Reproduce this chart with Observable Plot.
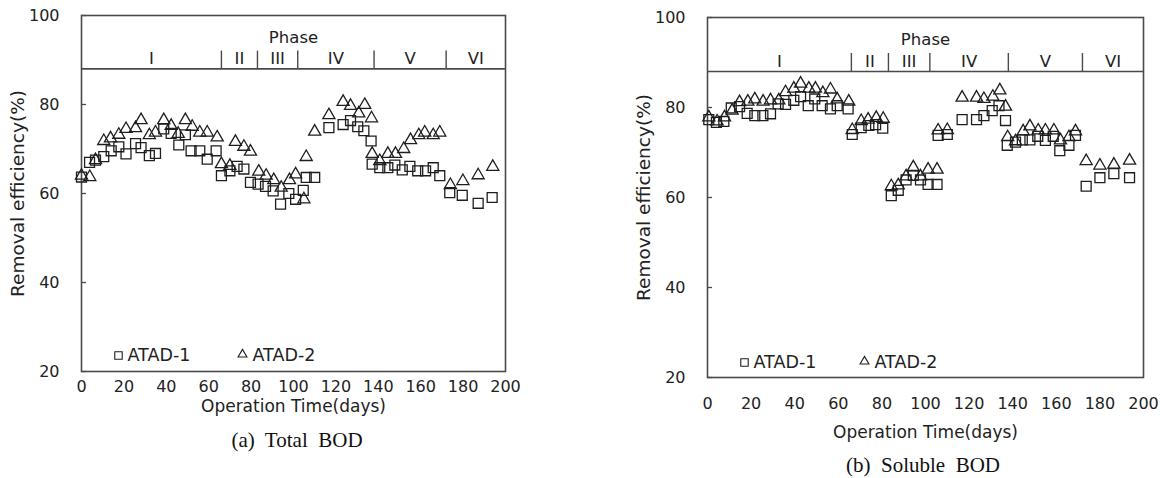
<!DOCTYPE html>
<html><head><meta charset="utf-8">
<script src="https://cdn.jsdelivr.net/npm/d3@7"></script>
<script src="https://cdn.jsdelivr.net/npm/@observablehq/plot@0.6"></script>
<style>
body{margin:0;background:#fff;}
#wrap{position:relative;width:1160px;height:478px;overflow:hidden;background:#fff;}
.panel{position:absolute;top:0;}
.cap{position:absolute;font-family:"Liberation Serif","DejaVu Serif",serif;font-size:21px;color:#111;white-space:pre;transform:translate(-50%,-50%);}
</style></head><body><div id="wrap"></div>
<script>
// ---- shared data ----
const xTicks = [0, 20, 40, 60, 80, 100, 120, 140, 160, 180, 200];
const yTicks = [20, 40, 60, 80, 100];
const phaseBounds = [0, 66, 83, 102, 138, 172, 200];
const phaseNames = ["I", "II", "III", "IV", "V", "VI"];
const phaseLevel = 88;      // horizontal phase line
const phaseTickTop = 92;    // top of the phase separators
const phaseLabelLevel = 90.2;
const seriesNames = ["ATAD-1", "ATAD-2"];

// ---- (a) Total BOD ----
const totalDays1 = [0,3.8,6.6,10.5,14,17.6,21,25.5,28.1,32,34.9,38.8,42.3,45.9,49,51.7,55.8,59.3,63.5,66,70,73.4,76.6,79.7,83.3,86.8,90.4,93.9,97.8,101,104.6,106,110,116.7,123.4,126.9,130.3,133.2,136.6,137.1,140.7,144.5,147.8,151.3,154.9,158.6,162.3,165.9,169,173.7,179.6,187.1,193.7];
const totalAtad1 = [63.7,67.0,67.5,68.3,69.6,70.5,68.9,71.2,70.3,68.5,69.0,74.5,73.5,70.9,73.2,69.6,69.6,67.7,69.6,64.0,65.1,66.1,65.5,62.5,62.1,61.6,60.6,57.6,60.0,58.7,60.7,63.6,63.6,74.8,75.5,76.4,75.0,74.1,71.8,66.6,65.8,65.8,66.4,65.3,66.1,65.1,65.1,65.8,64.0,60.2,59.6,57.8,59.1];
const totalDays2 = [0,3.9,6.6,10.5,13.7,17.6,21,25.5,28.1,32,34.9,38.8,42.3,45.6,49,52.2,55.8,59.3,64,66,70,72.6,76.6,79.7,83.6,87.1,90.7,94.2,98.1,101,104.9,106,110,116.7,123.4,126.9,130.8,133.6,136.8,137.1,140.7,144.5,148.1,152,155.2,159.1,161.9,165.9,169,174,179.9,187.1,194];
const totalAtad2 = [64.0,63.7,67.5,71.8,72.4,73.2,74.5,74.7,76.5,73.1,73.7,76.5,75.2,73.4,76.5,75.0,73.7,73.7,72.6,66.6,66.2,71.6,70.5,69.4,64.9,64.0,63.0,61.3,63.0,64.3,58.7,68.2,73.9,77.6,80.6,79.7,78.0,79.9,76.9,68.9,67.3,68.9,68.9,70.0,72.0,73.1,73.7,73.1,73.7,61.9,62.8,64.1,66.0];

// ---- (b) Soluble BOD ----
const solDays1 = [0.6,4.1,7.5,10.9,14.7,18.2,21.7,25.4,28.9,32.4,35.8,39.6,42.7,46.2,49.2,52.6,56.4,59.5,64.5,66.4,70.5,74,77.1,80.4,84.3,87.5,91.1,94.4,97.7,101.2,105.3,105.8,110,116.8,123.4,126.8,130.6,133.7,136.7,137.5,141.3,144.4,147.9,151.5,155,158.6,161.6,165.8,168.8,173.7,180,186.4,193.6];
const solAtad1 = [77.3,76.7,76.9,79.9,80.2,78.7,78.2,78.2,78.6,80.8,80.7,81.6,82.4,80.4,81.9,80.4,79.7,80.4,79.7,74.0,75.5,76.0,76.2,75.4,60.4,61.6,63.9,64.9,63.9,62.9,62.9,73.8,74.0,77.3,77.3,78.2,79.3,80.4,77.1,71.6,72.3,72.8,72.8,73.6,72.7,73.6,70.4,71.6,73.8,62.5,64.4,65.3,64.4];
const solDays2 = [0.6,4.4,7.8,11.3,14.7,18.5,21.7,25.5,28.9,32.7,35.8,39.6,42.7,46.5,49.5,52.9,56.4,59.5,64.8,66.4,70.5,73.7,77.4,80.6,84.3,87.5,91.1,94.4,97.7,101.2,105.3,105.8,110,116.8,123.4,126.8,130.9,134.1,136.7,137.7,141.3,144.8,147.9,151.7,155,158.9,161.9,165.8,168.8,173.7,180,186.4,193.6];
const solAtad2 = [77.8,76.9,77.8,79.3,81.2,81.3,81.8,81.3,81.6,81.6,83.4,84.2,85.3,84.2,84.2,83.2,84.0,81.8,81.3,75.0,77.0,77.3,77.7,77.5,62.5,62.7,64.7,66.7,64.7,66.2,66.2,74.9,75.0,82.2,82.2,81.9,82.4,83.8,80.2,73.4,72.5,74.7,75.8,74.9,74.9,74.9,72.7,73.4,74.7,68.1,67.1,67.3,68.2];

const ink = "#1e1e1e", frameInk = "#4a4a4a";

function panel(cfg) {
  const s1 = cfg.days1.map((d, i) => ({day: d, v: cfg.v1[i]}));
  const s2 = cfg.days2.map((d, i) => ({day: d, v: cfg.v2[i]}));
  const phases = phaseNames.map((n, i) => ({name: n, mid: (phaseBounds[i] + phaseBounds[i + 1]) / 2}));
  return Plot.plot({
    width: 580, height: cfg.height,
    marginLeft: cfg.ml, marginRight: cfg.mr, marginTop: cfg.mt, marginBottom: cfg.mb,
    style: {fontFamily: "'DejaVu Sans', sans-serif", fontSize: "16px", color: "#222", background: "transparent", overflow: "visible"},
    x: {domain: [0, 200]},
    y: {domain: [20, 100]},
    marks: [
      Plot.frame({stroke: frameInk, strokeWidth: 1.6}),
      Plot.axisX({ticks: xTicks, tickSize: 0, tickPadding: cfg.xPad, fontSize: 16, label: null}),
      Plot.axisX({ticks: [], tickSize: 0, fontSize: 17,
        label: "Operation Time(days)", labelAnchor: "center", labelOffset: cfg.xLabelOffset, labelArrow: "none"}),
      Plot.axisY({ticks: yTicks, tickSize: 0, tickPadding: 22, fontSize: 16, label: null}),
      Plot.axisY({ticks: [], tickSize: 0, fontSize: 18.5,
        label: "Removal efficiency(%)", labelAnchor: "center", labelOffset: 71, labelArrow: "none"}),
      Plot.axisY({ticks: yTicks, tickSize: -5, tickFormat: () => "", label: null, stroke: frameInk, strokeWidth: 1.3}),
      Plot.ruleY([phaseLevel], {stroke: frameInk, strokeWidth: 1.6}),
      Plot.ruleX(phaseBounds.slice(1, -1), {y1: phaseLevel, y2: phaseTickTop, stroke: frameInk, strokeWidth: 1.4}),
      Plot.text(phases, {x: "mid", y: phaseLabelLevel, text: "name", fontSize: 16.5, fill: "#222"}),
      Plot.text(["Phase"], {frameAnchor: "top", dy: 22, lineAnchor: "middle", fontSize: 16.5, fill: "#222"}),
      Plot.dot(s1, {x: "day", y: "v", symbol: "square", r: 5.6, stroke: ink, strokeWidth: 1.3, fill: "none"}),
      Plot.dot(s2, {x: "day", y: "v", symbol: "triangle", r: 4.5, stroke: ink, strokeWidth: 1.3, fill: "none"}),
      Plot.dot([seriesNames[0]], {frameAnchor: "bottom-left", dx: cfg.lg1, dy: cfg.lgy, symbol: "square", r: 4.2, stroke: ink, strokeWidth: 1.1, fill: "none"}),
      Plot.dot([seriesNames[1]], {frameAnchor: "bottom-left", dx: cfg.lg2, dy: cfg.lgy - 1, symbol: "triangle", r: 3.3, stroke: ink, strokeWidth: 1.1, fill: "none"}),
      Plot.text([seriesNames[0]], {frameAnchor: "bottom-left", dx: cfg.lg1 + 9, dy: cfg.lgy, textAnchor: "start", lineAnchor: "middle", fontSize: 17.5, fill: "#222"}),
      Plot.text([seriesNames[1]], {frameAnchor: "bottom-left", dx: cfg.lg2 + 10, dy: cfg.lgy, textAnchor: "start", lineAnchor: "middle", fontSize: 17.5, fill: "#222"})
    ]
  });
}

const wrap = document.getElementById("wrap");
function place(node, left) {
  const d = document.createElement("div");
  d.className = "panel"; d.style.left = left + "px";
  d.appendChild(node); wrap.appendChild(d);
}
function caption(text, x, y) {
  const c = document.createElement("div");
  c.className = "cap"; c.textContent = text;
  c.style.left = x + "px"; c.style.top = y + "px";
  wrap.appendChild(c);
}

place(panel({days1: totalDays1, v1: totalAtad1, days2: totalDays2, v2: totalAtad2,
  height: 420, ml: 81, mr: 75, mt: 15, mb: 49, xPad: 9, xLabelOffset: 40, lg1: 37, lg2: 161, lgy: -16}), 0);
place(panel({days1: solDays1, v1: solAtad1, days2: solDays2, v2: solAtad2,
  height: 445, ml: 127, mr: 17, mt: 17, mb: 68, xPad: 20, xLabelOffset: 60, lg1: 37, lg2: 157, lgy: -15}), 580);

caption("(a)  Total  BOD", 297, 440);
caption("(b)  Soluble  BOD", 923, 465);
</script></body></html>
